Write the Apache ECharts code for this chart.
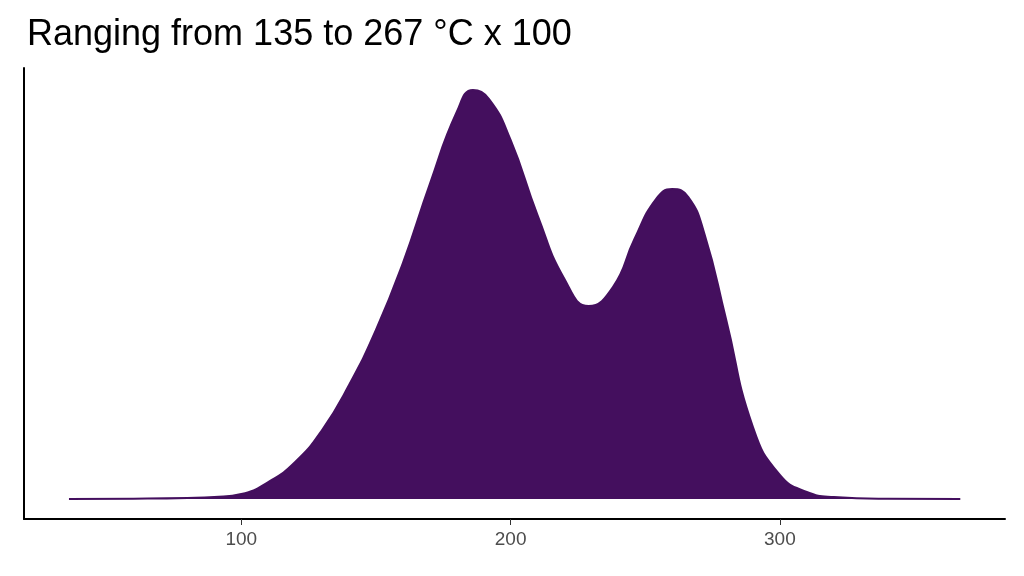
<!DOCTYPE html>
<html><head><meta charset="utf-8">
<script src="https://cdn.jsdelivr.net/npm/echarts@6/dist/echarts.min.js"></script>
<style>body{margin:0}#c{width:1024px;height:576px}</style></head>
<body><div id="c"></div>
<script>
// density curve (relative heights)
const xs = [36, 60, 80, 90, 100, 110, 120, 130, 140, 150, 160, 170, 180, 186, 192, 200, 210, 220, 229, 238, 246, 254, 260, 266, 272, 280, 290, 300, 310, 320, 340, 367];
const dens = [0, 0.3, 1, 2, 5, 17, 37, 69, 114, 169, 236, 315, 387, 409, 400, 359, 284, 220, 193, 212, 260, 300, 310, 302, 265, 180, 72, 24, 7, 2, 0.3, 0];
const tickValues = [100, 200, 300];

const chart = echarts.init(document.getElementById('c'));
chart.setOption({
    animation: false,
    title: {
        text: 'Ranging from 135 to 267 °C x 100', left: 22, top: 12,
        textStyle: { fontFamily: 'Liberation Sans', fontSize: 36, fontWeight: 'normal', color: '#000' }
    },
    grid: { left: 24, right: 19, top: 68, bottom: 57 },
    xAxis: {
        type: 'value', min: 19.3, max: 383.6,
        axisLine: { onZero: false, lineStyle: { color: '#000', width: 2 } },
        axisTick: { customValues: tickValues, length: 6, lineStyle: { color: '#333' } },
        axisLabel: { customValues: tickValues, fontFamily: 'Liberation Sans', fontSize: 19, color: '#4d4d4d', margin: 11 },
        splitLine: { show: false }
    },
    yAxis: {
        type: 'value', min: -20, max: 431,
        axisLine: { show: true, lineStyle: { color: '#000', width: 2 } },
        axisTick: { show: false }, axisLabel: { show: false }, splitLine: { show: false }
    },
    series: [{
        type: 'line', smooth: 0.5, symbol: 'none',
        data: xs.map((x, i) => [x, dens[i]]),
        lineStyle: { color: '#440f5e', width: 2 },
        areaStyle: { color: '#440f5e', opacity: 1, origin: 0 }
    }]
});
</script></body></html>
